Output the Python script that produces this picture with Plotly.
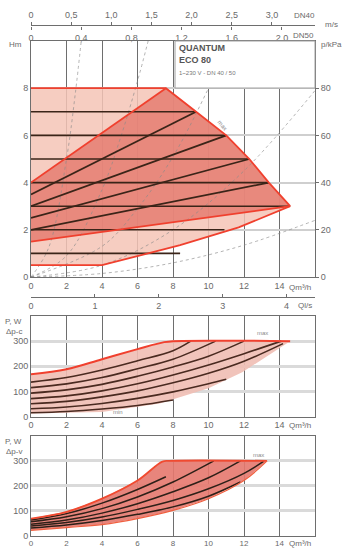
import plotly.graph_objects as go

W, H = 343, 549
FONT = "Liberation Sans"
TXT = "#6a6a6a"

# ---------------- top chart (H vs Q) ----------------
max_Q = [7.6, 9.3, 11.0, 12.3, 13.4, 14.6]
max_H = [8.0, 7.0, 6.0, 5.0, 4.0, 3.0]
min_Q = [0.0, 4.0, 8.4, 11.7, 14.6]
min_H = [0.5, 0.5, 1.35, 2.1, 3.0]
prop_start_H = [4.0, 3.5, 3.0, 2.5, 2.0, 1.5]
prop_end_Q = [7.6, 9.3, 11.0, 12.3, 13.4, 14.6]
prop_end_H = [8.0, 7.0, 6.0, 5.0, 4.0, 3.0]
const_H = [7, 6, 5, 4, 3, 2, 1]
const_end_Q = [9.3, 11.0, 12.3, 13.4, 14.6, 10.9, 8.4]
sys_curves = [
    ([0, 1, 2, 2.5, 2.83], [0, 1.25, 5.0, 7.8, 10.0]),
    ([0, 2, 4, 5, 6, 6.6], [0, 0.9, 3.7, 5.8, 8.3, 10.0]),
    ([0, 4, 6, 8, 10, 11.2], [0, 1.3, 2.9, 5.1, 8.0, 10.0]),
    ([0, 4, 8, 12, 16], [0, 0.5, 2.0, 4.5, 7.9]),
    ([0, 4, 8, 12, 16], [0, 0.15, 0.6, 1.35, 2.4]),
]
q_ticks = [0, 2, 4, 6, 8, 10, 12, 14]
h_ticks = [0, 2, 4, 6, 8]
kpa_ticks = [0, 20, 40, 60, 80]
dn40_ticks = [0, 0.5, 1.0, 1.5, 2.0, 2.5, 3.0]
dn40_text = ["0", "0,5", "1,0", "1,5", "2,0", "2,5", "3,0"]
dn50_ticks = [0, 0.4, 0.8, 1.2, 1.6, 2.0]
dn50_text = ["0", "0,4", "0,8", "1,2", "1,6", "2,0"]
ls_ticks = [0, 1, 2, 3, 4]

# ---------------- middle chart (P vs Q, Δp-c) ----------------
mid_top_Q = [0, 2, 4, 6, 7.5, 8.0, 14.6]
mid_top_P = [168, 188, 228, 268, 296, 300, 300]
mid_low_Q = [0, 4, 7.25, 10, 11.9, 14.6]
mid_low_P = [12, 18, 52, 112, 176, 300]
mid_curves = [
    ([0, 2, 4, 6, 8, 9.0], [137, 155, 185, 222, 262, 300]),
    ([0, 2, 4, 6, 8, 10.4], [115, 130, 155, 190, 228, 300]),
    ([0, 2, 4, 6, 8, 10, 12.0], [93, 106, 128, 160, 197, 240, 300]),
    ([0, 2, 4, 6, 8, 10, 12, 14.1], [71, 82, 102, 130, 165, 205, 250, 300]),
    ([0, 2, 4, 6, 8, 10, 12, 14.2], [51, 60, 78, 102, 134, 172, 220, 290]),
    ([0, 2, 4, 6, 8, 10, 11.0], [31, 38, 52, 72, 98, 130, 148]),
    ([0, 2, 4, 6, 8.0], [15, 20, 30, 44, 66]),
]

# ---------------- bottom chart (P vs Q, Δp-v) ----------------
bot_top_Q = [0, 2, 4, 6, 7.4, 7.8, 13.3]
bot_top_P = [68, 95, 148, 221, 297, 300, 300]
bot_low_Q = [0, 2, 4, 6, 8, 10, 12, 13.3]
bot_low_P = [21, 32, 44, 68, 101, 148, 221, 300]
bot_curves = [
    ([0, 2, 4, 6, 7.6], [62, 88, 130, 185, 236]),
    ([0, 2, 4, 6, 8, 10.3], [55, 75, 108, 155, 215, 300]),
    ([0, 2, 4, 6, 8, 10, 11.8], [45, 62, 90, 128, 176, 232, 300]),
    ([0, 2, 4, 6, 8, 10, 12, 13.1], [38, 52, 74, 105, 141, 188, 250, 298]),
    ([0, 2, 4, 6, 8, 10, 11.8], [30, 42, 60, 85, 115, 158, 215]),
]
p_ticks = [0, 100, 200, 300]

# ---------------- geometry helpers ----------------
def px_x(x):
    return x / W

def px_y(y):
    return 1 - y / H

XD = [px_x(31), px_x(315)]
TOP_D = [px_y(277), px_y(41)]
MID_D = [px_y(416.5), px_y(316)]
BOT_D = [px_y(535.5), px_y(436)]

RED = "#f0402e"
DARK = "#3a2418"

fig = go.Figure()

def line(x, y, xa, ya, color, width=1.5, dash="solid", shape="linear", opacity=1.0):
    fig.add_trace(go.Scatter(x=x, y=y, xaxis=xa, yaxis=ya, mode="lines",
                             line=dict(color=color, width=width, dash=dash, shape=shape),
                             opacity=opacity, hoverinfo="skip", showlegend=False))

def fill(x, y, xa, ya, color):
    fig.add_trace(go.Scatter(x=x, y=y, xaxis=xa, yaxis=ya, mode="lines", fill="toself",
                             fillcolor=color, line=dict(width=0), hoverinfo="skip",
                             showlegend=False))

# ---- top chart ----
env_Q = [0.0] + max_Q + min_Q[::-1]
env_H = [8.0] + max_H + min_H[::-1]
fill(env_Q, env_H, "x", "y", "rgba(244,196,182,0.85)")
dark_Q = [0.0] + max_Q + [0.0]
dark_H = [prop_start_H[0]] + max_H + [prop_start_H[-1]]
fill(dark_Q, dark_H, "x", "y", "rgba(228,118,106,0.78)")

for qs, hs in sys_curves:
    line(qs, hs, "x", "y", "#8a8a8a", width=0.8, dash="dot", shape="spline", opacity=0.8)

for h, qe in zip(const_H, const_end_Q):
    line([0, qe], [h, h], "x", "y", DARK, width=1.6)

for i, (h0, qe, he) in enumerate(zip(prop_start_H, prop_end_Q, prop_end_H)):
    c = RED if i in (0, len(prop_start_H) - 1) else DARK
    line([0, qe], [h0, he], "x", "y", c, width=1.8)

line([0] + max_Q, [8.0] + max_H, "x", "y", RED, width=1.8)
line(min_Q, min_H, "x", "y", RED, width=1.8)

# invisible traces to activate extra axes
for xa, ya in [("x", "y2"), ("x3", "y"), ("x4", "y"), ("x5", "y")]:
    fig.add_trace(go.Scatter(x=[0], y=[0], xaxis=xa, yaxis=ya, mode="markers",
                             marker=dict(opacity=0), hoverinfo="skip", showlegend=False))

# ---- middle chart ----
fill(mid_top_Q + mid_low_Q[::-1], mid_top_P + mid_low_P[::-1], "x2", "y3",
     "rgba(240,190,180,0.9)")
for qs, ps in mid_curves:
    line(qs, ps, "x2", "y3", "#4a2a20", width=1.6, shape="spline")
line(mid_top_Q, mid_top_P, "x2", "y3", RED, width=2, shape="spline")

# ---- bottom chart ----
fill(bot_top_Q + bot_low_Q[::-1], bot_top_P + bot_low_P[::-1], "x6", "y4",
     "rgba(230,120,110,0.9)")
for qs, ps in bot_curves:
    line(qs, ps, "x6", "y4", "#2e2018", width=1.5, shape="spline")
line(bot_top_Q, bot_top_P, "x6", "y4", "#f04a30", width=1.8, shape="spline")
line(bot_low_Q, bot_low_P, "x6", "y4", "#f06040", width=1.2, shape="spline")

tf = dict(family=FONT, size=9, color=TXT)
tf8 = dict(family=FONT, size=8, color=TXT)

def qaxis(domain, anchor, font=tf):
    return dict(domain=domain, anchor=anchor, range=[0, 16], tickvals=q_ticks,
                tickfont=font, showgrid=True,
                gridcolor="#6e6e6e", gridwidth=1, showline=True, linecolor="#6e6e6e",
                mirror=True, zeroline=False, ticks="", fixedrange=True, automargin=False)

layout = dict(
    width=W, height=H, margin=dict(l=0, r=0, t=0, b=0, pad=0), autosize=False,
    paper_bgcolor="white", plot_bgcolor="white", showlegend=False,
    font=dict(family=FONT, size=9, color=TXT),
    xaxis=qaxis(XD, "y"),
    yaxis=dict(domain=TOP_D, anchor="x", range=[0, 10], tickvals=h_ticks, tickfont=tf,
               showgrid=True, gridcolor="#cfcfcf", gridwidth=2, showline=True,
               linecolor="#6e6e6e", mirror=True, zeroline=False, ticks="", automargin=False),
    yaxis2=dict(overlaying="y", anchor="x", side="right", range=[0, 100],
                tickvals=kpa_ticks, tickfont=tf, showgrid=False, zeroline=False,
                ticks="outside", ticklen=3, tickcolor="#6e6e6e", showline=False,
                automargin=False),
    xaxis3=dict(overlaying="x", anchor="free", position=px_y(25), side="top",
                range=[0, 16 / 4.524], tickvals=dn40_ticks, ticktext=dn40_text,
                tickfont=tf, showgrid=False, zeroline=False, showline=True,
                linecolor="#6e6e6e", ticks="outside", ticklen=3, tickcolor="#6e6e6e",
                automargin=False),
    xaxis4=dict(overlaying="x", anchor="free", position=px_y(26), side="bottom",
                range=[0, 16 / 7.069], tickvals=dn50_ticks, ticktext=dn50_text,
                tickfont=tf, showgrid=False, zeroline=False, showline=False,
                ticks="outside", ticklen=3, tickcolor="#6e6e6e", automargin=False),
    xaxis5=dict(overlaying="x", anchor="free", position=px_y(297), side="bottom",
                range=[0, 16 / 3.6], tickvals=ls_ticks, tickfont=tf, showgrid=False,
                zeroline=False, showline=True, linecolor="#6e6e6e", ticks="inside",
                ticklen=3, tickcolor="#6e6e6e", automargin=False),
    xaxis2=qaxis(XD, "y3"),
    yaxis3=dict(domain=MID_D, anchor="x2", range=[0, 400], tickvals=p_ticks, tickfont=tf,
                showgrid=True, gridcolor="#dadada", gridwidth=3, showline=True,
                linecolor="#6e6e6e", mirror=True, zeroline=False, ticks="",
                automargin=False),
    xaxis6=qaxis(XD, "y4", font=tf8),
    yaxis4=dict(domain=BOT_D, anchor="x6", range=[0, 400], tickvals=p_ticks, tickfont=tf,
                showgrid=True, gridcolor="#dadada", gridwidth=3, showline=True,
                linecolor="#6e6e6e", mirror=True, zeroline=False, ticks="",
                automargin=False),
)
fig.update_layout(**layout)

def ann(text, x, y, size=9, color=TXT, bold=False, xanchor="center", angle=0):
    fig.add_annotation(text=("<b>%s</b>" % text) if bold else text,
                       x=px_x(x), y=px_y(y), xref="paper", yref="paper",
                       xanchor=xanchor, yanchor="middle", showarrow=False,
                       textangle=angle, font=dict(family=FONT, size=size, color=color))

ann("Hm", 15, 45, size=8)
ann("p/kPa", 331, 45, size=8)
ann("m/s", 331, 25, size=8)
ann("DN40", 304, 15, size=8)
ann("DN50", 303, 35, size=8)
ann("Qm³/h", 300, 287, size=8)
ann("Ql/s", 305, 305, size=8)
ann("Qm³/h", 300, 425, size=8)
ann("Qm³/h", 300, 543, size=8)
ann("P, W", 14, 321, size=8)
ann("Δp-c", 14, 331, size=8)
ann("P, W", 14, 441, size=8)
ann("Δp-v", 14, 451, size=8)
ann("max", 222, 125, size=6, color="#8a8a8a", angle=52)
ann("max", 262, 333, size=6, color="#8a8a8a")
ann("min", 118, 412, size=6, color="#8a8a8a")
ann("max", 258, 455, size=6, color="#8a8a8a")

# legend box
fig.add_shape(type="rect", xref="paper", yref="paper", x0=px_x(175), x1=px_x(315),
              y0=px_y(88), y1=px_y(41), fillcolor="white",
              line=dict(color="#a0a0a0", width=1), layer="above")
ann("QUANTUM", 177, 48, size=9, color="#555555", bold=True, xanchor="left")
ann("ECO 80", 177, 60, size=9, color="#555555", bold=True, xanchor="left")
ann("1~230 V - DN 40 / 50", 177, 73, size=6, color="#777777", xanchor="left")

fig.write_html("out.html", config={"displayModeBar": False},
               post_script="document.body.style.margin='0';document.body.style.overflow='hidden';")
